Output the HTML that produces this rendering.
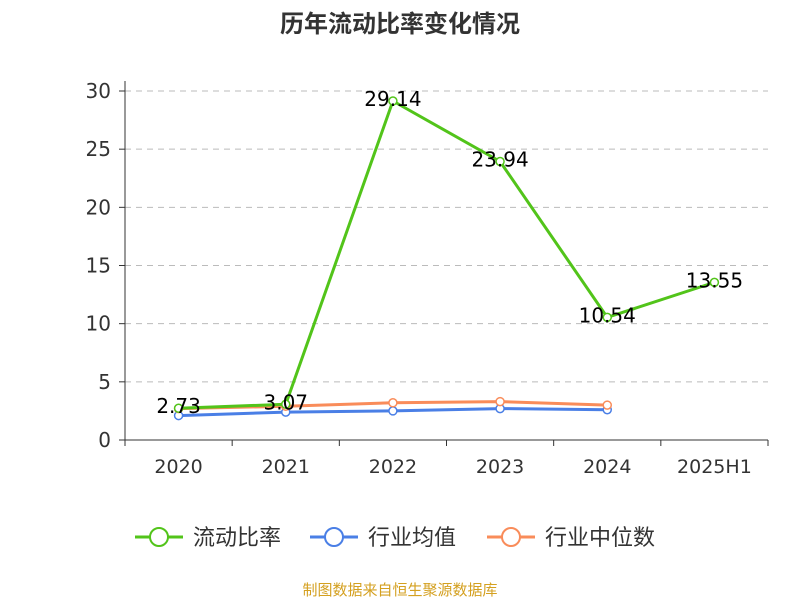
<!DOCTYPE html>
<html><head><meta charset="utf-8">
<style>
body{margin:0;background:#fff;}
svg text{font-family:"DejaVu Sans","Noto Sans CJK SC",sans-serif;}
</style></head>
<body>
<svg id="chart" width="800" height="600" xmlns="http://www.w3.org/2000/svg">
<text x="400" y="32" text-anchor="middle" font-size="24" font-weight="bold" fill="#333" style="font-family:'Noto Sans CJK SC',sans-serif">历年流动比率变化情况</text>
<g id="grid"></g>
<g id="axes"></g>
<g id="series"></g>
<g id="legend"></g>
<text x="400" y="595" text-anchor="middle" font-size="15" fill="#d4a020" style="font-family:'Noto Sans CJK SC',sans-serif">制图数据来自恒生聚源数据库</text>
</svg>
<script>
const categories=["2020","2021","2022","2023","2024","2025H1"];
const ratioValues=[2.73,3.07,29.14,23.94,10.54,13.55];
const industryAvg=[2.1,2.4,2.5,2.7,2.6];
const industryMedian=[2.7,2.9,3.2,3.3,3.0];
const yTicks=[0,5,10,15,20,25,30];
const seriesNames=["流动比率","行业均值","行业中位数"];
const colors=["#52c41a","#4a7fe6","#f98c5a"];
const NS="http://www.w3.org/2000/svg";
const L=125,R=768,T=91,B=440,yMax=30;
const bw=(R-L)/categories.length;
function xs(i){return L+bw*(i+0.5);}
function ys(v){return B-(v/yMax)*(B-T);}
function mk(tag,attrs,parent,txt){const e=document.createElementNS(NS,tag);for(const k in attrs)e.setAttribute(k,attrs[k]);if(txt!==undefined)e.textContent=txt;parent.appendChild(e);return e;}
const grid=document.getElementById('grid'),axes=document.getElementById('axes'),ser=document.getElementById('series'),leg=document.getElementById('legend');
yTicks.forEach(t=>{
  if(t>0){const g=mk('line',{x1:L,x2:R,y1:ys(t),y2:ys(t),stroke:'#bbb','stroke-dasharray':'6,5'},grid);
  
  }
  const tk=mk('line',{x1:L-6,x2:L,y1:ys(t),y2:ys(t),stroke:'#333'},axes);
  
  
  const lb=mk('text',{x:L-14,y:ys(t)+7,'text-anchor':'end','font-size':20,fill:'#333'},axes,String(t));
  
  
});
const ya=mk('line',{x1:L,x2:L,y1:T-10,y2:B,stroke:'#333'},axes);


const xa=mk('line',{x1:L,x2:R,y1:B,y2:B,stroke:'#333'},axes);


for(let i=0;i<=categories.length;i++){const tk=mk('line',{x1:L+bw*i,x2:L+bw*i,y1:B,y2:B+6,stroke:'#333'},axes);

}
categories.forEach((c,i)=>{const t=mk('text',{x:xs(i),y:B+33,'text-anchor':'middle','font-size':19,fill:'#333'},axes,c);

});
function drawSeries(vals,color,name,labels){
  const g=mk('g',{},ser);
  
  
  const pts=vals.map((v,i)=>xs(i)+','+ys(v)).join(' ');
  mk('polyline',{points:pts,fill:'none',stroke:color,'stroke-width':3},g);
  vals.forEach((v,i)=>{const c=mk('circle',{cx:xs(i),cy:ys(v),r:4,fill:'#fff',stroke:color,'stroke-width':1.5},g);
  
  
  if(labels){const t=mk('text',{x:xs(i),y:ys(v)+5,'text-anchor':'middle','font-size':20,fill:'#000'},g,v.toFixed(2));
  
  }});
}
drawSeries(industryAvg,colors[1],'industry-average-line',false);
drawSeries(industryMedian,colors[2],'industry-median-line',false);
drawSeries(ratioValues,colors[0],'current-ratio-line',true);
const lx=[135,310,487];
seriesNames.forEach((n,i)=>{
  const g=mk('g',{},leg);
  
  
  mk('line',{x1:lx[i],x2:lx[i]+48,y1:537,y2:537,stroke:colors[i],'stroke-width':3},g);
  mk('circle',{cx:lx[i]+24,cy:537,r:9,fill:'#fff',stroke:colors[i],'stroke-width':2},g);
  mk('text',{x:lx[i]+58,y:545,'font-size':22,fill:'#333'},g,n);
});
</script>
</body></html>
